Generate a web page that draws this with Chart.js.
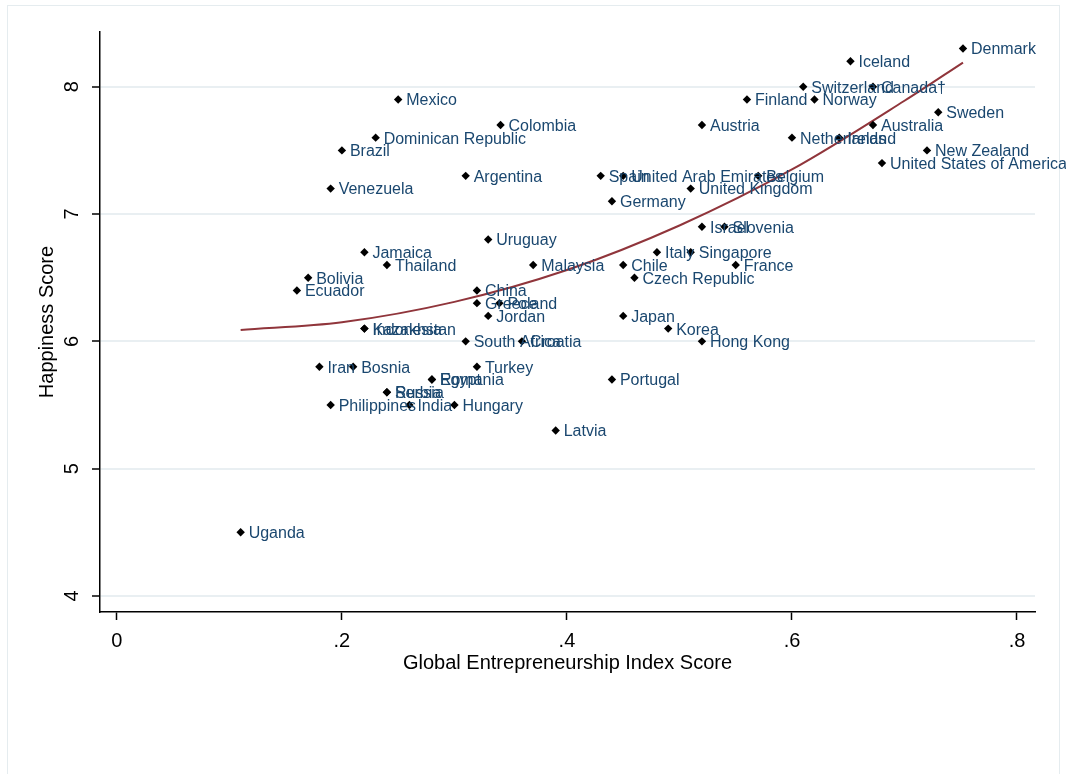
<!DOCTYPE html>
<html>
<head>
<meta charset="utf-8">
<script src="https://cdn.jsdelivr.net/npm/chart.js@4/dist/chart.umd.min.js"></script>
<style>
  html, body { margin: 0; padding: 0; background: #fff; }
  canvas { display: block; }
</style>
</head>
<body>
<canvas id="graficoFelicidad" width="1066" height="774"></canvas>
<script>
// datos
const paises = ['Denmark', 'Iceland', 'Switzerland', 'Canada†', 'Mexico', 'Finland', 'Norway', 'Sweden',
  'Colombia', 'Austria', 'Australia', 'Dominican Republic', 'Netherlands', 'Ireland', 'Brazil', 'New Zealand',
  'United States of America', 'Argentina', 'Spain', 'United Arab Emirates', 'Belgium', 'Venezuela',
  'United Kingdom', 'Germany', 'Israel', 'Slovenia', 'Uruguay', 'Jamaica', 'Italy', 'Singapore',
  'Thailand', 'Malaysia', 'Chile', 'France', 'Bolivia', 'Czech Republic', 'Ecuador', 'China',
  'Greece', 'Poland', 'Jordan', 'Japan', 'Kazakhstan', 'Indonesia', 'Korea', 'South Africa',
  'Croatia', 'Hong Kong', 'Iran', 'Bosnia', 'Turkey', 'Egypt', 'Romania', 'Portugal',
  'Russia', 'Serbia', 'Philippines', 'India', 'Hungary', 'Latvia', 'Uganda'];
const gei = [0.752, 0.652, 0.61, 0.672, 0.25, 0.56, 0.62, 0.73,
  0.341, 0.52, 0.672, 0.23, 0.60, 0.642, 0.20, 0.72,
  0.68, 0.31, 0.43, 0.45, 0.57, 0.19,
  0.51, 0.44, 0.52, 0.54, 0.33, 0.22, 0.48, 0.51,
  0.24, 0.37, 0.45, 0.55, 0.17, 0.46, 0.16, 0.32,
  0.32, 0.34, 0.33, 0.45, 0.22, 0.22, 0.49, 0.31,
  0.36, 0.52, 0.18, 0.21, 0.32, 0.28, 0.28, 0.44,
  0.24, 0.24, 0.19, 0.26, 0.30, 0.39, 0.11];
const felicidad = [8.3, 8.2, 8.0, 8.0, 7.9, 7.9, 7.9, 7.8,
  7.7, 7.7, 7.7, 7.6, 7.6, 7.6, 7.5, 7.5,
  7.4, 7.3, 7.3, 7.3, 7.3, 7.2,
  7.2, 7.1, 6.9, 6.9, 6.8, 6.7, 6.7, 6.7,
  6.6, 6.6, 6.6, 6.6, 6.5, 6.5, 6.4, 6.4,
  6.3, 6.3, 6.2, 6.2, 6.1, 6.1, 6.1, 6.0,
  6.0, 6.0, 5.8, 5.8, 5.8, 5.7, 5.7, 5.7,
  5.6, 5.6, 5.5, 5.5, 5.5, 5.3, 4.5];

// curva de ajuste (puntos leídos sobre la línea roja)
const ajusteX = [0.11, 0.2, 0.3, 0.4, 0.5, 0.6, 0.7, 0.752];
const ajusteY = [6.09, 6.15, 6.31, 6.56, 6.91, 7.35, 7.89, 8.19];

const ticksX = [0, 0.2, 0.4, 0.6, 0.8];
const etiquetasX = ['0', '.2', '.4', '.6', '.8'];
const ticksY = [4, 5, 6, 7, 8];
const etiquetasY = ['4', '5', '6', '7', '8'];

const fuente = '"Liberation Sans", Arial, Helvetica, sans-serif';

const textos = {
  id: 'textos',
  beforeDraw(chart) {
    const c = chart.ctx;
    c.save();
    c.strokeStyle = '#e5ecef';
    c.lineWidth = 1;
    c.strokeRect(7.5, 5.5, 1052, 780);
    c.restore();
  },
  afterDatasetsDraw(chart) {
    const c = chart.ctx;
    const xs = chart.scales.x, ys = chart.scales.y;
    const area = chart.chartArea;
    c.save();
    // etiquetas de los países
    c.font = '16px ' + fuente;
    c.fillStyle = '#1a476f';
    c.textAlign = 'left';
    c.textBaseline = 'middle';
    paises.forEach((p, i) => {
      c.fillText(p, xs.getPixelForValue(gei[i]) + 8, ys.getPixelForValue(felicidad[i]) + 1.5);
    });
    // etiquetas del eje y, giradas
    c.fillStyle = '#000';
    c.font = '20px ' + fuente;
    c.textAlign = 'center';
    ticksY.forEach((v, i) => {
      c.save();
      c.translate(72, ys.getPixelForValue(v));
      c.rotate(-Math.PI / 2);
      c.fillText(etiquetasY[i], 0, 0);
      c.restore();
    });
    // títulos de los ejes
    c.fillText('Global Entrepreneurship Index Score', (area.left + area.right) / 2, 663);
    c.save();
    c.translate(47, (area.top + area.bottom) / 2);
    c.rotate(-Math.PI / 2);
    c.fillText('Happiness Score', 0, 0);
    c.restore();
    c.restore();
  }
};

new Chart(document.getElementById('graficoFelicidad'), {
  type: 'scatter',
  data: {
    datasets: [{
      label: 'Países',
      data: gei.map((x, i) => ({ x, y: felicidad[i] })),
      pointStyle: 'rectRot',
      pointRadius: 4.2,
      backgroundColor: '#000',
      borderColor: '#000',
      borderWidth: 0
    }, {
      label: 'Ajuste',
      data: ajusteX.map((x, i) => ({ x, y: ajusteY[i] })),
      showLine: true,
      pointRadius: 0,
      borderColor: '#90353b',
      borderWidth: 2,
      cubicInterpolationMode: 'monotone'
    }]
  },
  options: {
    responsive: false,
    animation: false,
    devicePixelRatio: 1,
    layout: { padding: { left: 0, top: 32, right: 31, bottom: 0 } },
    plugins: { legend: { display: false }, tooltip: { enabled: false } },
    scales: {
      x: {
        type: 'linear',
        min: -0.015,
        max: 0.816,
        afterBuildTicks: s => { s.ticks = ticksX.map(v => ({ value: v })); },
        afterFit: s => { s.height = 162; },
        ticks: {
          callback: (v, i) => etiquetasX[i],
          font: { size: 20, family: fuente },
          color: '#000',
          padding: 9,
          maxRotation: 0
        },
        grid: { drawOnChartArea: false, tickLength: 8, tickColor: '#000', tickWidth: 1.5 },
        border: { color: '#000', width: 1.5 }
      },
      y: {
        type: 'linear',
        min: 3.874,
        max: 8.43,
        afterBuildTicks: s => { s.ticks = ticksY.map(v => ({ value: v })); },
        afterFit: s => { s.width = 100; },
        ticks: { display: false },
        grid: { color: '#e9eff2', lineWidth: 2, tickLength: 8, tickColor: '#000', tickWidth: 1.5 },
        border: { color: '#000', width: 1.5 }
      }
    }
  },
  plugins: [textos]
});
</script>
</body>
</html>
